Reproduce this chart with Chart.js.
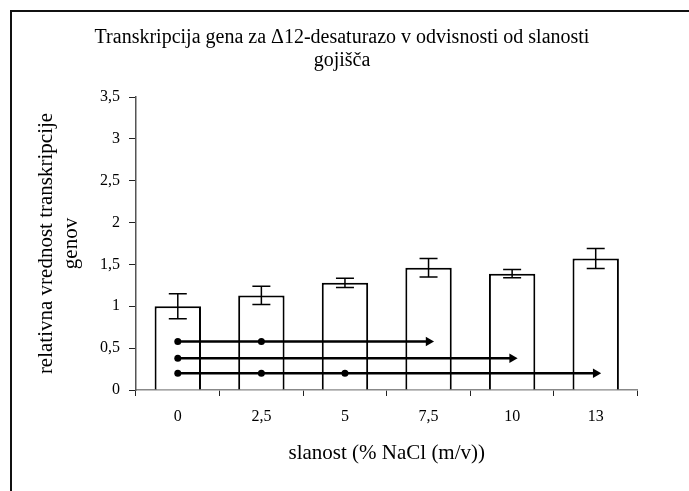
<!DOCTYPE html>
<html>
<head>
<meta charset="utf-8">
<script src="https://cdn.jsdelivr.net/npm/chart.js@4"></script>
<style>
  body { margin: 0; background: #fff; }
  .frame { position: absolute; left: 10px; top: 10px; width: 700px; height: 500px;
           border-left: 2px solid #111; border-top: 2px solid #111; }
  #chart { position: absolute; left: 12px; top: 12px; }
</style>
</head>
<body>
<div class="frame"></div>
<canvas id="chart" width="631" height="479"></canvas>
<script>
const categories = ['0', '2,5', '5', '7,5', '10', '13'];
const values = [1.0, 1.13, 1.28, 1.46, 1.39, 1.57];
const errors = [0.15, 0.11, 0.055, 0.11, 0.05, 0.12];
const yTicks = [0, 0.5, 1, 1.5, 2, 2.5, 3, 3.5];

// significance arrows: level, dots along the line, arrow end
const sigLevels = [0.58, 0.38, 0.2];
const sigDots = [[0, 1], [0], [0, 1, 2]];
const sigEnds = [3, 4, 5];

const serif = "'Liberation Serif', 'Times New Roman', serif";

function sigDataset(i) {
    const isDot = k => sigDots[i].includes(k);
    const isEnd = k => k === sigEnds[i];
    return {
        type: 'line',
        data: categories.map((c, k) => (isDot(k) || isEnd(k)) ? sigLevels[i] : null),
        spanGaps: true,
        borderColor: '#000',
        backgroundColor: '#000',
        borderWidth: 2.5,
        pointStyle: categories.map((c, k) => isEnd(k) ? 'triangle' : 'circle'),
        pointRotation: categories.map((c, k) => isEnd(k) ? 90 : 0),
        pointRadius: categories.map((c, k) => isEnd(k) ? 5.5 : (isDot(k) ? 3.5 : 0)),
        pointBorderWidth: 0,
        order: 1
    };
}

const errorBars = {
    id: 'errorBars',
    afterDatasetsDraw(chart) {
        const ctx = chart.ctx;
        const y = chart.scales.y;
        const meta = chart.getDatasetMeta(0);
        ctx.save();
        ctx.strokeStyle = '#000';
        ctx.lineWidth = 1.5;
        meta.data.forEach((bar, i) => {
            const top = y.getPixelForValue(values[i] + errors[i]);
            const bot = y.getPixelForValue(values[i] - errors[i]);
            ctx.beginPath();
            ctx.moveTo(bar.x, top); ctx.lineTo(bar.x, bot);
            ctx.moveTo(bar.x - 9, top); ctx.lineTo(bar.x + 9, top);
            ctx.moveTo(bar.x - 9, bot); ctx.lineTo(bar.x + 9, bot);
            ctx.stroke();
        });
        ctx.restore();
    }
};

new Chart(document.getElementById('chart'), {
    type: 'bar',
    data: {
        labels: categories,
        datasets: [
            {
                data: values,
                backgroundColor: '#fff',
                borderColor: '#000',
                borderWidth: 2,
                barPercentage: 0.555,
                categoryPercentage: 1,
                order: 2
            },
            sigDataset(0),
            sigDataset(1),
            sigDataset(2)
        ]
    },
    options: {
        responsive: false,
        animation: false,
        devicePixelRatio: 1,
        layout: { padding: { left: 29, right: 0, top: 0, bottom: 0 } },
        plugins: {
            legend: { display: false },
            tooltip: { enabled: false },
            title: {
                display: true,
                text: ['Transkripcija gena za \u039412-desaturazo v odvisnosti od slanosti', 'gojišča'],
                color: '#000',
                font: { family: serif, size: 20, weight: 'normal', lineHeight: 1.15 },
                padding: { top: 14, bottom: 25 }
            }
        },
        scales: {
            x: {
                afterFit: s => { s.height = 101; },
                grid: { offset: true, drawOnChartArea: false, tickLength: 6, color: '#222', tickWidth: 1 },
                border: { color: '#888', width: 1.5 },
                ticks: { color: '#000', padding: 11, font: { family: serif, size: 16 } },
                title: {
                    display: true,
                    text: 'slanost (% NaCl (m/v))',
                    color: '#000',
                    font: { family: serif, size: 21, lineHeight: 1.1 },
                    padding: { top: 0, bottom: 26 }
                }
            },
            y: {
                min: 0,
                max: 3.5,
                afterFit: s => { s.width = 95; },
                afterBuildTicks: s => { s.ticks = yTicks.map(v => ({ value: v })); },
                grid: { drawOnChartArea: false, tickLength: 7, color: '#222' },
                border: { color: '#555', width: 1.5 },
                ticks: {
                    color: '#000',
                    padding: 9,
                    font: { family: serif, size: 16 },
                    callback: v => String(v).replace('.', ',')
                },
                title: {
                    display: true,
                    text: ['relativna vrednost transkripcije', 'genov'],
                    color: '#000',
                    font: { family: serif, size: 21, lineHeight: 1.2 },
                    padding: { top: -7, bottom: 0 }
                }
            }
        }
    },
    plugins: [errorBars]
});
</script>
</body>
</html>
